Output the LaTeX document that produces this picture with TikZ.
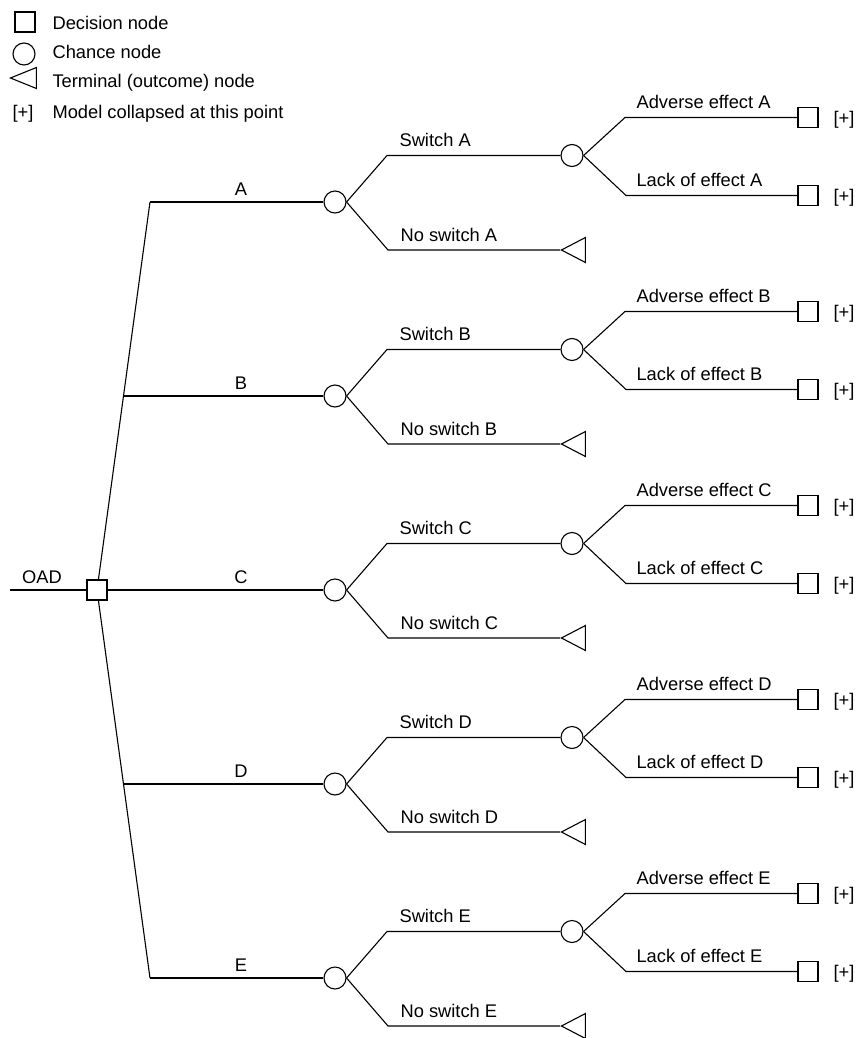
\documentclass[tikz,border=0pt]{standalone}
\usepackage{fontspec}
\setmainfont{Liberation Sans}
\usetikzlibrary{shapes.geometric, positioning}

\tikzset{
  decision/.style={draw, rectangle, minimum size=20pt, inner sep=0pt},
  chance/.style={draw, circle, minimum size=22pt, inner sep=0pt},
  terminal/.style={draw, isosceles triangle, isosceles triangle stretches,
    shape border rotate=180, minimum width=25pt, minimum height=24pt, inner sep=0pt},
  lbl/.style={inner sep=0pt, font=\fontsize{18.3}{22}\selectfont},
}

\begin{document}
\begin{tikzpicture}[x=1pt, y=-1pt, line width=1.1pt]
\useasboundingbox (0,0) rectangle (856,1038);

% key
\node[decision] (key-dec) at (25,22) {};
\node[chance] (key-ch) at (24,54) {};
\node[terminal, minimum width=21pt, minimum height=26pt, anchor=apex] (key-tm) at (9,78) {};
\node[lbl, anchor=base west] (key-plus) at (12,118) {[+]};
\node[lbl, anchor=base west] (key-dec-txt) at (52,30) {Decision node};
\node[lbl, anchor=base west] (key-ch-txt) at (52,59) {Chance node};
\node[lbl, anchor=base west] (key-tm-txt) at (52,88) {Terminal (outcome) node};
\node[lbl, anchor=base west] (key-plus-txt) at (52,118) {Model collapsed at this point};

% root
\coordinate (oad) at (10,590);
\node[decision] (root) at (97,590) {};
\draw (oad) -- (root);
\node[lbl, anchor=base] (oad-txt) at (42,583) {OAD};

\foreach \L/\sx [count=\i from 0] in {A/150, B/123.5, C/107, D/123.5, E/150} {
  \pgfmathsetmacro{\yc}{202+194*\i}
  \pgfmathsetmacro{\ys}{\yc-46.5}
  \pgfmathsetmacro{\yn}{\yc+48}
  \pgfmathsetmacro{\ya}{\ys-38}
  \pgfmathsetmacro{\yl}{\ys+40}
  % first branch
  \coordinate (st-\L) at (\sx,\yc);
  \node[chance] (ch-\L) at (335,\yc) {};
  \draw (st-\L) -- (ch-\L);
  \node[lbl, anchor=base] (txt-\L) at (241,\yc-7) {\L};
  % switch / no switch
  \coordinate (sw-\L) at (387,\ys);
  \coordinate (ns-\L) at (388,\yn);
  \node[chance] (ev-\L) at (572,\ys) {};
  \node[terminal, anchor=apex] (tm-\L) at (560,\yn) {};
  \draw (ch-\L.east) -- (sw-\L) -- (ev-\L);
  \draw (ch-\L.east) -- (ns-\L) -- (tm-\L.apex);
  \node[lbl, anchor=base west] (sw-txt-\L) at (399,\ys-9) {Switch \L};
  \node[lbl, anchor=base west] (ns-txt-\L) at (400,\yn-9) {No switch \L};
  % effects
  \coordinate (ae-\L) at (625,\ya);
  \coordinate (le-\L) at (626,\yl);
  \node[decision] (ad-\L) at (808,\ya) {};
  \node[decision] (lk-\L) at (808,\yl) {};
  \draw (ev-\L.east) -- (ae-\L) -- (ad-\L);
  \draw (ev-\L.east) -- (le-\L) -- (lk-\L);
  \node[lbl, anchor=base west] (ae-txt-\L) at (636,\ya-9) {Adverse effect \L};
  \node[lbl, anchor=base west] (le-txt-\L) at (636,\yl-9) {Lack of effect \L};
  \node[lbl, anchor=base west] (ad-plus-\L) at (833,\ya+7) {[+]};
  \node[lbl, anchor=base west] (lk-plus-\L) at (833,\yl+7) {[+]};
}

% fan from the root (B and D start on these)
\draw (root) -- (st-A);
\draw (root) -- (st-E);
\end{tikzpicture}
\end{document}
